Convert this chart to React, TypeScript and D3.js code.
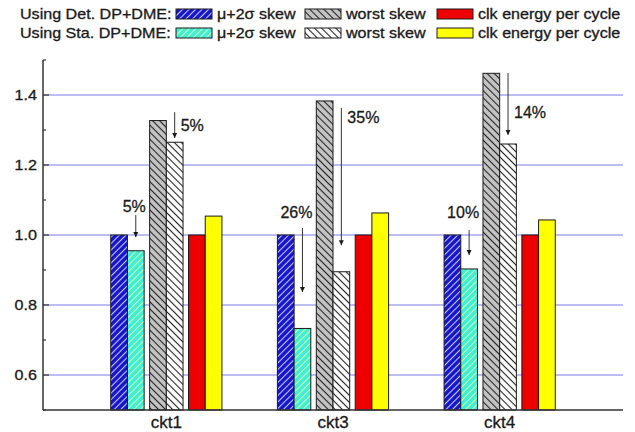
import * as d3 from 'd3';

const categories = ['ckt1', 'ckt3', 'ckt4'];
const detMuSkew = [1.0, 1.0, 1.0];
const staMuSkew = [0.955, 0.733, 0.903];
const detWorstSkew = [1.327, 1.383, 1.462];
const staWorstSkew = [1.265, 0.895, 1.26];
const detEnergy = [1.0, 1.0, 1.0];
const staEnergy = [1.054, 1.063, 1.043];

const yTicks = [0.6, 0.8, 1.0, 1.2, 1.4];

// reduction annotations (arrow top / tip and label baseline, in data units)
const muLabels = ['5%', '26%', '10%'];
const muArrowTop = [1.057, 1.02, 1.014];
const muArrowTip = [0.994, 0.837, 0.943];
const muLabelY = [1.066, 1.049, 1.049];
const worstLabels = ['5%', '35%', '14%'];
const worstArrowTop = [1.351, 1.363, 1.463];
const worstArrowTip = [1.277, 0.971, 1.286];
const worstLabelY = [1.297, 1.32, 1.334];

const W = 635;
const H = 432;
const left = 43;
const right = 623;
const top = 60;
const bottom = 410;
const barW = 16.7;
const pairGap = 5.5;
const groupW = 6 * barW + 2 * pairGap;
const font = 'Liberation Sans, Arial, sans-serif';
const ink = '#1a1a1a';
const heavy = { stroke: ink, strokeWidth: 0.3 };

const series = [
  { key: 'detMu', values: detMuSkew, fill: 'url(#hBlue)' },
  { key: 'staMu', values: staMuSkew, fill: 'url(#hCyan)' },
  { key: 'detWorst', values: detWorstSkew, fill: 'url(#hGray)' },
  { key: 'staWorst', values: staWorstSkew, fill: 'url(#hWhite)' },
  { key: 'detEnergy', values: detEnergy, fill: '#ee0000' },
  { key: 'staEnergy', values: staEnergy, fill: '#ffff00' },
];

const legendRows = [
  { label: 'Using Det. DP+DME:', fills: ['url(#hBlue)', 'url(#hGray)', '#ee0000'] },
  { label: 'Using Sta. DP+DME:', fills: ['url(#hCyan)', 'url(#hWhite)', '#ffff00'] },
];
const legendNames = ['\u03bc+2\u03c3 skew', 'worst skew', 'clk energy per cycle'];
const legendCols = [176, 305, 437];

function offset(i: number) {
  return Math.floor(i / 2) * (2 * barW + pairGap) + (i % 2) * barW - groupW / 2;
}

function Hatch({ id, bg, line, spacing, angle, sw }: any) {
  return (
    <pattern id={id} patternUnits="userSpaceOnUse" width={spacing} height={spacing} patternTransform={`rotate(${angle})`}>
      <rect width={spacing} height={spacing} fill={bg} />
      <line x1={spacing / 2} y1={0} x2={spacing / 2} y2={spacing} stroke={line} strokeWidth={sw} />
    </pattern>
  );
}

export default function App() {
  const x = d3.scaleBand().domain(categories).range([83, 583]);
  const y = d3.scaleLinear().domain([0.5, 1.5]).range([bottom, top]);
  const cx = (c: string) => (x(c) as number) + x.bandwidth() / 2;
  const minor = y.ticks(10).filter((v) => Math.round(v * 10) % 2 === 1);
  const fmt = d3.format('.1f');

  return (
    <svg width={W} height={H} style={{ position: 'absolute', left: 0, top: 0, background: '#fff' }} fontFamily={font}>
      <defs>
        <Hatch id="hBlue" bg="#1414c8" line="#c8c8ff" spacing={4.6} angle={45} sw={1.1} />
        <Hatch id="hCyan" bg="#3aeedd" line="#d8ffa0" spacing={4.6} angle={45} sw={1.1} />
        <Hatch id="hGray" bg="#c4c4c4" line="#222" spacing={5} angle={-45} sw={1.1} />
        <Hatch id="hWhite" bg="#fff" line="#222" spacing={5} angle={-45} sw={1.1} />
        <marker id="arrow" viewBox="0 0 10 10" refX={10} refY={5} markerWidth={5} markerHeight={6} orient="auto" markerUnits="userSpaceOnUse">
          <path d="M0,0 L10,5 L0,10 Z" fill={ink} />
        </marker>
      </defs>

      {/* legend */}
      {legendRows.map((row, r) => {
        const base = 19 + r * 19;
        return (
          <g key={row.label}>
            <text transform={`translate(20,${base}) scale(1.15,1)`} fontSize={14} fill={ink} {...heavy}>
              {row.label}
            </text>
            {row.fills.map((f, k) => (
              <g key={k}>
                <rect x={legendCols[k]} y={base - 10} width={36} height={10} fill={f} stroke={ink} strokeWidth={1} />
                <text transform={`translate(${legendCols[k] + 41},${base}) scale(1.15,1)`} fontSize={14} fill={ink} {...heavy}>
                  {legendNames[k]}
                </text>
              </g>
            ))}
          </g>
        );
      })}

      {/* grid */}
      {yTicks.map((t) => (
        <line key={t} x1={left} x2={right} y1={y(t)} y2={y(t)} stroke="#7a7ae8" strokeWidth={1} />
      ))}

      {/* bars */}
      {categories.map((c, ci) => (
        <g key={c}>
          {series.map((s, i) => (
            <rect
              key={s.key}
              x={cx(c) + offset(i)}
              y={y(s.values[ci])}
              width={barW}
              height={bottom - y(s.values[ci])}
              fill={s.fill}
              stroke={ink}
              strokeWidth={1}
            />
          ))}
        </g>
      ))}

      {/* annotations */}
      {categories.map((c, ci) => {
        const ax1 = cx(c) + offset(1) + barW / 2;
        const ax2 = cx(c) + offset(3) + barW / 2;
        return (
          <g key={c} fill={ink} fontSize={16}>
            <line x1={ax1} x2={ax1} y1={y(muArrowTop[ci])} y2={y(muArrowTip[ci])} stroke="#333" strokeWidth={1} markerEnd="url(#arrow)" />
            <text x={ax1 + 10} y={y(muLabelY[ci])} textAnchor="end" {...heavy}>{muLabels[ci]}</text>
            <line x1={ax2} x2={ax2} y1={y(worstArrowTop[ci])} y2={y(worstArrowTip[ci])} stroke="#333" strokeWidth={1} markerEnd="url(#arrow)" />
            <text x={ax2 + 6} y={y(worstLabelY[ci])} {...heavy}>{worstLabels[ci]}</text>
          </g>
        );
      })}

      {/* axes */}
      <line x1={left} x2={left} y1={top} y2={bottom} stroke="#333" strokeWidth={1.5} />
      <line x1={left} x2={right} y1={bottom} y2={bottom} stroke="#333" strokeWidth={1.5} />
      {yTicks.map((t) => (
        <g key={t}>
          <line x1={left} x2={left + 6} y1={y(t)} y2={y(t)} stroke="#333" strokeWidth={1.2} />
          <text transform={`translate(37,${y(t)}) scale(1.15,1)`} dy="0.36em" textAnchor="end" fontSize={14} fill={ink} {...heavy}>
            {fmt(t)}
          </text>
        </g>
      ))}
      {minor.map((t) => (
        <line key={t} x1={left} x2={left + 3} y1={y(t)} y2={y(t)} stroke="#333" strokeWidth={1.2} />
      ))}
      {categories.map((c) => (
        <text key={c} x={cx(c)} y={428} textAnchor="middle" fontSize={17} fill={ink} {...heavy}>
          {c}
        </text>
      ))}
    </svg>
  );
}
